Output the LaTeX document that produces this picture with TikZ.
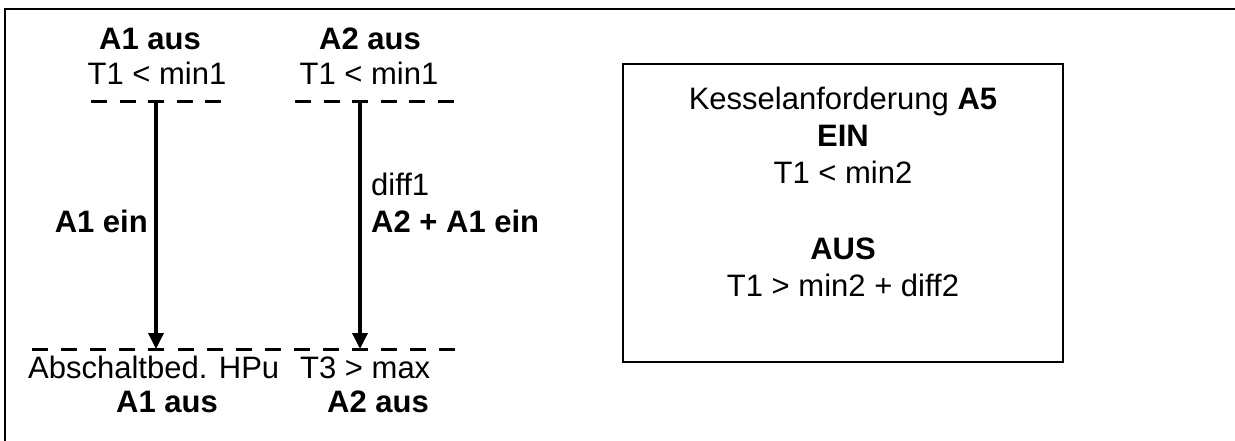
\documentclass[tikz,border=0pt]{standalone}
\usepackage{fontspec}
\setmainfont{Liberation Sans}
\usetikzlibrary{arrows.meta}
\begin{document}
\begin{tikzpicture}[x=1pt,y=-1pt,
  txt/.style={inner sep=0pt,anchor=base,font=\fontsize{31}{37}\selectfont},
  btxt/.style={txt,font=\fontsize{31}{37}\selectfont\bfseries},
  dline/.style={line width=3pt,dash pattern=on 16pt off 12.5pt},
  dlinelong/.style={line width=3pt,dash pattern=on 16pt off 13.1pt},
  flow/.style={line width=3.5pt,-{Triangle[width=15pt,length=16pt]}},
  frame/.style={line width=2.5pt}]
\useasboundingbox (0,0) rectangle (1235,441);
% outer frame (only top and left visible)
\coordinate (fTL) at (5,9);
\coordinate (fTR) at (1240,9);
\coordinate (fBL) at (5,446);
\draw[frame] (fBL) -- (fTL) -- (fTR);

% top labels
\node[btxt] (a1aus) at (150,50) {A1 aus};
\node[btxt] (a2aus) at (370,50) {A2 aus};
\node[txt] (c1) at (157,85) {T1 < min1};
\node[txt] (c2) at (369,85) {T1 < min1};

% dashed lines
\coordinate (d1l) at (91,102);
\coordinate (d1r) at (221,102);
\coordinate (d2l) at (295,102);
\coordinate (d2r) at (453.5,102);
\coordinate (dbl) at (32,349);
\coordinate (dbr) at (455,349);
\draw[dline] (d1l) -- (d1r);
\draw[dline] (d2l) -- (d2r);
\draw[dlinelong] (dbl) -- (dbr);

% arrows
\coordinate (s1) at (156,102);
\coordinate (e1) at (156,349);
\coordinate (s2) at (360,102);
\coordinate (e2) at (360,349);
\draw[flow] (s1) -- (e1);
\draw[flow] (s2) -- (e2);

% arrow labels
\node[btxt,anchor=base east] (a1ein) at (148,233) {A1 ein};
\node[txt,anchor=base west] (diff1) at (371,196) {diff1};
\node[btxt,anchor=base west] (a2a1ein) at (371,233) {A2 + A1 ein};

% bottom labels
\node[txt,anchor=base west] (absch) at (28,378) {Abschaltbed. HPu};
\node[txt,anchor=base west] (t3) at (300,378) {T3 > max};
\node[btxt] (a1ausb) at (167,412) {A1 aus};
\node[btxt] (a2ausb) at (378,412) {A2 aus};

% box
\node[draw,line width=2pt,minimum width=440pt,minimum height=298pt,inner sep=0pt] (box) at (843,213) {};
\node[txt] (k1) at (843,110) {Kesselanforderung \textbf{A5}};
\node[btxt] (k2) at (843,147) {EIN};
\node[txt] (k3) at (843,184) {T1 < min2};
\node[btxt] (k4) at (843,259) {AUS};
\node[txt] (k5) at (843,296) {T1 > min2 + diff2};
\end{tikzpicture}
\end{document}
